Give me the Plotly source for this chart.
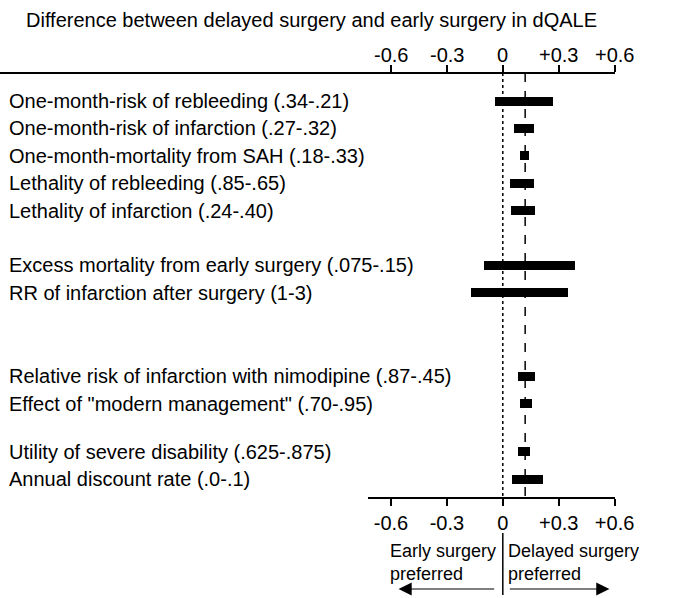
import plotly.graph_objects as go

# Sensitivity analysis: range of the dQALE difference (delayed minus early surgery)
parameters = [
    "One-month-risk of rebleeding (.34-.21)",
    "One-month-risk of infarction (.27-.32)",
    "One-month-mortality from SAH (.18-.33)",
    "Lethality of rebleeding (.85-.65)",
    "Lethality of infarction (.24-.40)",
    "Excess mortality from early surgery (.075-.15)",
    "RR of infarction after surgery (1-3)",
    "Relative risk of infarction with nimodipine (.87-.45)",
    "Effect of \"modern management\" (.70-.95)",
    "Utility of severe disability (.625-.875)",
    "Annual discount rate (.0-.1)",
]
low = [-0.04, 0.06, 0.09, 0.04, 0.045, -0.10, -0.17, 0.08, 0.094, 0.083, 0.049]
high = [0.27, 0.17, 0.14, 0.17, 0.175, 0.39, 0.35, 0.175, 0.159, 0.148, 0.214]
baseline = 0.12
tick_vals = [-0.6, -0.3, 0, 0.3, 0.6]
tick_text = ["-0.6", "-0.3", "0", "+0.3", "+0.6"]

# ---- layout geometry (pixels) ----
W, H = 678, 598
ZERO_PX = 517.3          # horizontal pixel of dQALE = 0
PX_PER_UNIT = 191.7      # pixels per dQALE unit
TOP_AXIS_Y = 73
BOTTOM_AXIS_Y = 498
AXIS_RIGHT_PX = 633
BOTTOM_AXIS_LEFT_PX = 379
FIRST_ROW_Y = 101
ROW_PITCH = 27.4
row_slots = [0, 1, 2, 3, 4, 6, 7, 10.05, 11.05, 12.8, 13.8]
row_y = [FIRST_ROW_Y + ROW_PITCH * s for s in row_slots]

FONT = dict(family="Liberation Sans, Arial, Helvetica, sans-serif", size=20, color="black")
CAPTION_FONT = dict(FONT, size=18)


def px_to_val(px):
    return (px - ZERO_PX) / PX_PER_UNIT


fig = go.Figure()

fig.add_trace(go.Bar(
    orientation="h",
    y=row_y,
    base=low,
    x=[h - l for h, l in zip(high, low)],
    width=9,
    marker=dict(color="black", line=dict(width=0)),
    hoverinfo="skip",
    showlegend=False,
))
# registers the lower axis
fig.add_trace(go.Scatter(x=[], y=[], xaxis="x2", yaxis="y", showlegend=False))

axis_common = dict(
    tickvals=tick_vals, ticktext=tick_text, tickfont=FONT,
    showline=True, linecolor="black", linewidth=1.5,
    ticks="outside", ticklen=7, tickwidth=1.5, tickcolor="black",
    showgrid=False, zeroline=False, fixedrange=True,
)

fig.update_layout(
    width=W, height=H,
    margin=dict(l=0, r=0, t=0, b=0),
    paper_bgcolor="white", plot_bgcolor="rgba(0,0,0,0)",
    font=FONT,
    bargap=0,
    xaxis=dict(
        domain=[0, AXIS_RIGHT_PX / W],
        range=[px_to_val(0), px_to_val(AXIS_RIGHT_PX)],
        side="top", anchor="free", position=1 - TOP_AXIS_Y / H,
        showticklabels=False,
        **axis_common,
    ),
    xaxis2=dict(
        domain=[BOTTOM_AXIS_LEFT_PX / W, AXIS_RIGHT_PX / W],
        range=[px_to_val(BOTTOM_AXIS_LEFT_PX), px_to_val(AXIS_RIGHT_PX)],
        side="bottom", anchor="free", position=1 - BOTTOM_AXIS_Y / H,
        **axis_common,
    ),
    yaxis=dict(range=[H, 0], domain=[0, 1], visible=False, fixedrange=True),
)

# upper scale labels, set a little closer to the axis line than the default
for v, t in zip(tick_vals, tick_text):
    fig.add_annotation(text=t, x=v, xref="x", y=55, yref="y", xanchor="center",
                       yanchor="middle", showarrow=False, font=FONT)

# reference lines: no difference (dotted) and base case (dashed)
fig.add_shape(type="line", xref="x", yref="y", x0=0, x1=0, layer="below",
              y0=TOP_AXIS_Y, y1=BOTTOM_AXIS_Y, line=dict(color="black", width=1.5, dash="dot"))
fig.add_shape(type="line", xref="x", yref="y", x0=baseline, x1=baseline, layer="below",
              y0=TOP_AXIS_Y, y1=BOTTOM_AXIS_Y, line=dict(color="black", width=1.5, dash="dash"))
# divider between the two preference captions
fig.add_shape(type="line", xref="x", yref="y", x0=0, x1=0,
              y0=533, y1=595, line=dict(color="black", width=1.5))


def text(s, x_px, y_px, anchor="left", font=FONT):
    fig.add_annotation(text=s, x=x_px / W, xref="paper", y=y_px, yref="y",
                       xanchor=anchor, yanchor="middle", align="left",
                       showarrow=False, font=font)


text("Difference between delayed surgery and early surgery in dQALE", 25, 20)
for name, y in zip(parameters, row_y):
    text(name, 7, y)

text("Early surgery<br>preferred", 512, 562, anchor="right", font=CAPTION_FONT)
text("Delayed surgery<br>preferred", 521, 562, font=CAPTION_FONT)

# direction arrows
for tail_px, head_px in [(510, 410), (523, 627)]:
    fig.add_annotation(
        x=px_to_val(head_px), y=589, xref="x", yref="y",
        ax=px_to_val(tail_px), ay=589, axref="x", ayref="y",
        text="", showarrow=True, arrowhead=2, arrowsize=2.2, arrowwidth=1.2,
        arrowcolor="black",
    )

fig.write_html("out.html")
